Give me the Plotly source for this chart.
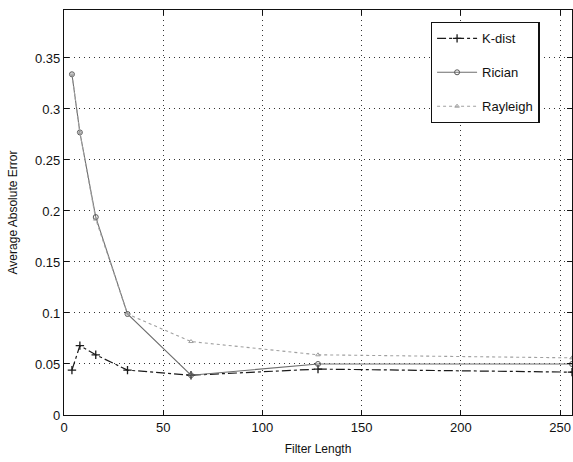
import plotly.graph_objects as go

# Filter lengths and average absolute error per distribution model
filter_length = [4, 8, 16, 32, 64, 128, 256]
k_dist = [0.044, 0.068, 0.059, 0.044, 0.039, 0.045, 0.042]
rician = [0.334, 0.277, 0.194, 0.099, 0.039, 0.050, 0.050]
rayleigh = [0.334, 0.277, 0.192, 0.099, 0.072, 0.059, 0.056]

x_ticks = [0, 50, 100, 150, 200, 250]
y_ticks = [0, 0.05, 0.1, 0.15, 0.2, 0.25, 0.3, 0.35]
y_labels = ["0", "0.05", "0.1", "0.15", "0.2", "0.25", "0.3", "0.35"]

FONT = "Liberation Sans, Arial, sans-serif"

fig = go.Figure()
fig.add_trace(go.Scatter(
    x=filter_length, y=k_dist, name="K-dist", mode="lines+markers", legendgroup="a",
    line=dict(color="#1a1a1a", width=1.2, dash="dashdot"),
    marker=dict(symbol="cross-thin-open", size=6, color="#1a1a1a",
                line=dict(width=1.3, color="#1a1a1a")),
))
fig.add_trace(go.Scatter(
    x=filter_length, y=rician, name="Rician", mode="lines+markers", legendgroup="b",
    line=dict(color="#6e6e6e", width=1.1),
    marker=dict(symbol="circle-open", size=5, color="#555555",
                line=dict(width=1, color="#555555")),
))
fig.add_trace(go.Scatter(
    x=filter_length, y=rayleigh, name="Rayleigh", mode="lines+markers", legendgroup="c",
    line=dict(color="#a0a0a0", width=1.1, dash="dot"),
    marker=dict(symbol="triangle-up-open", size=4, color="#a0a0a0",
                line=dict(width=1, color="#a0a0a0")),
))

axis_common = dict(
    showline=True, linecolor="#111111", linewidth=1.3, mirror="ticks",
    ticks="inside", ticklen=5, tickcolor="#111111",
    showgrid=True, gridcolor="#333333", griddash="1px,4px", gridwidth=1,
    zeroline=False,
    tickfont=dict(family=FONT, size=13, color="#111111"),
)

fig.update_layout(
    width=573, height=462,
    margin=dict(l=64, r=1, t=10, b=47),
    paper_bgcolor="white", plot_bgcolor="white",
    xaxis=dict(range=[0, 256], tickvals=x_ticks,
               title=dict(text="Filter Length", standoff=10,
                          font=dict(family=FONT, size=12, color="#111111")),
               **axis_common),
    yaxis=dict(range=[0, 0.397], tickvals=y_ticks, ticktext=y_labels,
               title=dict(text="Average Absolute Error", standoff=14,
                          font=dict(family=FONT, size=12, color="#111111")),
               **axis_common),
    legend=dict(x=0.722, y=0.97, xanchor="left", yanchor="top",
                bgcolor="white", bordercolor="#111111", borderwidth=1.3,
                font=dict(family=FONT, size=13, color="#111111"),
                itemwidth=40, tracegroupgap=14),
    showlegend=True,
)

fig.write_html("out.html")
